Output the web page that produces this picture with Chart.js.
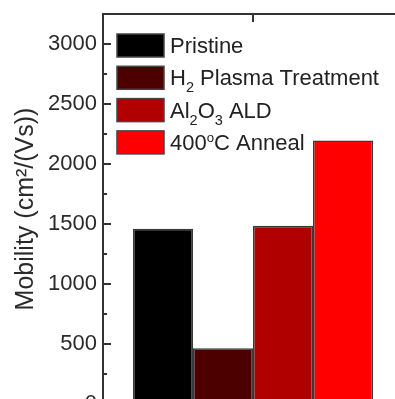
<!DOCTYPE html>
<html>
<head>
<meta charset="utf-8">
<script src="https://cdn.jsdelivr.net/npm/chart.js@4"></script>
<style>
  html, body { margin: 0; padding: 0; overflow: hidden; background: #fff; }
  #wrap { width: 420px; height: 440px; }
</style>
</head>
<body>
<div id="wrap"><canvas id="mobilityChart" width="420" height="440"></canvas></div>
<script>
  // data
  const categories = [""];
  const seriesNames = ["Pristine", "H_2 Plasma Treatment", "Al_2O_3 ALD", "400^oC Anneal"];
  const mobility = [1460, 465, 1485, 2195];
  const barColors = ["#000000", "#4d0000", "#b00000", "#ff0000"];
  const yTicks = [0, 500, 1000, 1500, 2000, 2500, 3000];
  const yMax = 3250;

  const FONT = "'Liberation Sans', Arial, Helvetica, sans-serif";
  const INK = "#333333";

  // draws "H_2" style markup with sub/superscripts
  function drawRich(ctx, text, x, y, size) {
    const parts = text.split(/([_^]\S)/).filter(s => s.length);
    parts.forEach(p => {
      let dy = 0, fs = size;
      if (p[0] === "_" && p.length === 2) { fs = size * 0.66; dy = 7; p = p[1]; }
      else if (p[0] === "^" && p.length === 2) { fs = size * 0.6; dy = -8; p = p[1]; }
      ctx.font = fs + "px " + FONT;
      ctx.fillText(p, x, y + dy);
      x += ctx.measureText(p).width;
    });
  }

  const framePlugin = {
    id: "frame",
    afterDatasetsDraw(chart) {
      const { ctx, chartArea: a, scales } = chart;
      const y = scales.y, x = scales.x;
      ctx.save();
      ctx.strokeStyle = INK;
      ctx.lineWidth = 2;
      ctx.strokeRect(a.left, a.top, a.right - a.left, a.bottom - a.top);
      ctx.beginPath();
      yTicks.forEach(v => {
        const py = y.getPixelForValue(v);
        ctx.moveTo(a.left, py); ctx.lineTo(a.left + 8, py);
        ctx.moveTo(a.right, py); ctx.lineTo(a.right - 8, py);
        if (v + 250 <= yMax) {
          const m = y.getPixelForValue(v + 250);
          ctx.moveTo(a.left, m); ctx.lineTo(a.left + 4, m);
          ctx.moveTo(a.right, m); ctx.lineTo(a.right - 4, m);
        }
      });
      categories.forEach((c, i) => {
        const px = x.getPixelForValue(i);
        ctx.moveTo(px, a.top); ctx.lineTo(px, a.top + 8);
        ctx.moveTo(px, a.bottom); ctx.lineTo(px, a.bottom - 8);
      });
      ctx.stroke();

      // legend inside the plot
      const bx = a.left + 14, by = a.top + 20;
      seriesNames.forEach((name, i) => {
        const top = by + i * 32.3;
        ctx.fillStyle = barColors[i];
        ctx.fillRect(bx, top, 47, 23);
        ctx.lineWidth = 1.5;
        ctx.strokeStyle = "#444";
        ctx.strokeRect(bx, top, 47, 23);
        ctx.fillStyle = "#222";
        ctx.textBaseline = "alphabetic";
        drawRich(ctx, name, bx + 53, top + 19, 22);
      });
      ctx.restore();
    }
  };

  const ctx = document.getElementById("mobilityChart").getContext("2d");
  const mobilityChart = new Chart(ctx, {
    type: "bar",
    data: {
      labels: categories,
      datasets: seriesNames.map((n, i) => ({
        label: n.replace(/[_^]/g, ""),
        data: [mobility[i]],
        backgroundColor: barColors[i],
        borderColor: "#3a3a3a",
        borderWidth: 1.5,
        categoryPercentage: 0.8,
        barPercentage: 1.0
      }))
    },
    options: {
      responsive: false,
      animation: false,
      layout: { padding: { left: 0, top: 14, right: 17, bottom: 36 } },
      scales: {
        x: { display: false },
        y: {
          min: 0,
          max: yMax,
          afterFit(scale) {
            scale.width = 103;
            scale.paddingTop = 0;
            scale.paddingBottom = 0;
          },
          afterBuildTicks(scale) { scale.ticks = yTicks.map(v => ({ value: v })); },
          grid: { display: false, drawTicks: false },
          border: { display: false },
          ticks: {
            padding: 6,
            color: "#2a2a2a",
            font: { family: FONT, size: 22 },
            callback: v => String(v)
          },
          title: {
            display: true,
            text: "Mobility (cm²/(Vs))",
            color: "#2a2a2a",
            padding: { top: 11, bottom: 0 },
            font: { family: FONT, size: 25 }
          }
        }
      },
      plugins: {
        legend: { display: false },
        tooltip: { enabled: false }
      }
    },
    plugins: [framePlugin]
  });
</script>
</body>
</html>
